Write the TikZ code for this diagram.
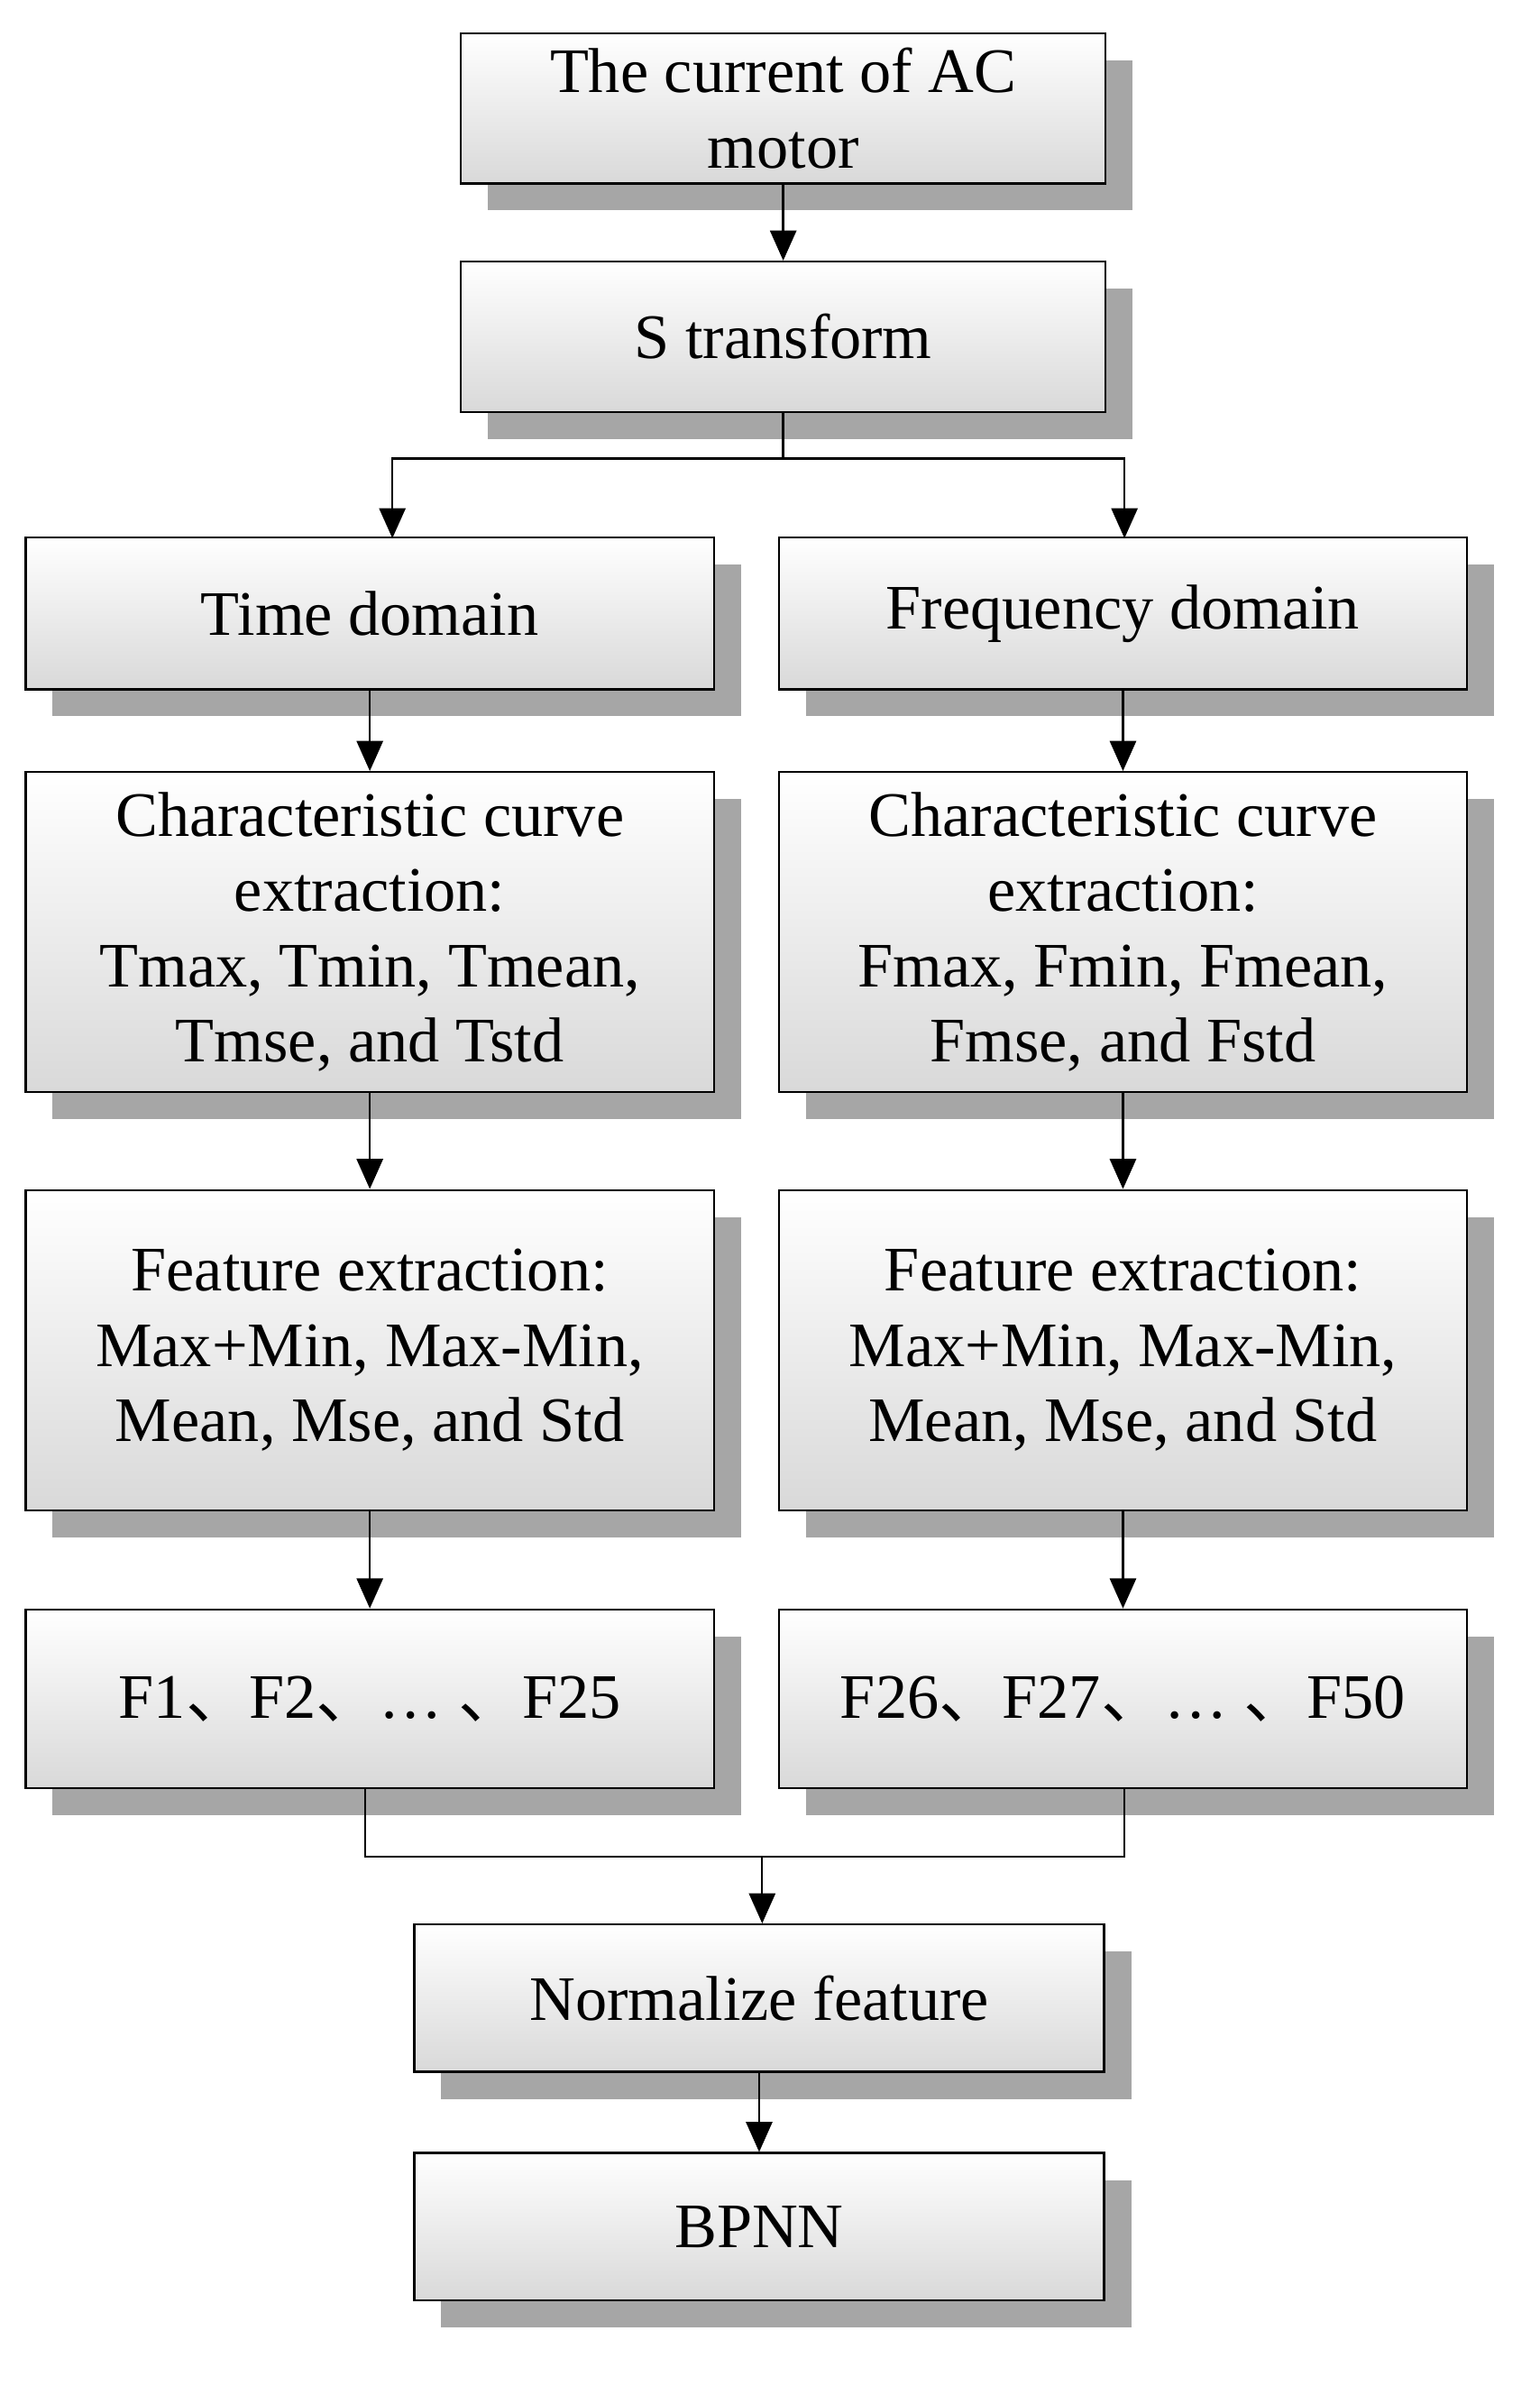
\documentclass[tikz,border=0pt]{standalone}
\usepackage{fontspec}
\setmainfont{Liberation Serif}
\newfontfamily\cjk{Noto Sans CJK SC}
\newcommand{\dun}{{\cjk 、}}
\usetikzlibrary{positioning, arrows.meta, calc, shadows}
\begin{document}
\begin{tikzpicture}[x=0.02cm, y=-0.02cm,
    box/.style={rectangle, draw, thick, align=center, top color=white, bottom color=gray!30,
      drop shadow={shadow xshift=0.36cm, shadow yshift=-0.36cm, fill=gray!70, opacity=1},
      font=\fontsize{24}{28.5}\selectfont},
    wide/.style={box, minimum width=8.58cm, minimum height=2cm},
    half/.style={box, minimum width=9.16cm},
    arrow/.style={-{Triangle[width=3.5mm, length=4mm]}, thick}
]
\useasboundingbox (0,0) rectangle (1024,1587);

% Input and transform
\node[wide] (motor) at (521,72) {The current of AC\\motor};
\node[wide] (strans) at (521,224) {S transform};
\draw[arrow] (motor) -- (strans);

% Two branches
\node[half, minimum height=2.02cm] (time) at (246,408) {Time domain};
\node[half, minimum height=2.02cm] (freq) at (747,408) {Frequency domain};
\coordinate (split) at (521,305);
\draw[thick] (strans) -- (split);
\draw[arrow] (split) -| (261,358);
\draw[arrow] (split) -| (748,358);

\node[half, minimum height=4.26cm] (tcurve) at (246,620) {Characteristic curve\\extraction:\\Tmax, Tmin, Tmean,\\Tmse, and Tstd};
\node[half, minimum height=4.26cm] (fcurve) at (747,620) {Characteristic curve\\extraction:\\Fmax, Fmin, Fmean,\\Fmse, and Fstd};
\draw[arrow] (time) -- (tcurve);
\draw[arrow] (freq) -- (fcurve);

\node[half, minimum height=4.26cm] (tfeat) at (246,898) {Feature extraction:\\Max+Min, Max-Min,\\Mean, Mse, and Std};
\node[half, minimum height=4.26cm] (ffeat) at (747,898) {Feature extraction:\\Max+Min, Max-Min,\\Mean, Mse, and Std};
\draw[arrow] (tcurve) -- (tfeat);
\draw[arrow] (fcurve) -- (ffeat);

\node[half, minimum height=2.38cm] (tvec) at (246,1130) {F1\dun F2\dun\dots\ \dun F25};
\node[half, minimum height=2.38cm] (fvec) at (747,1130) {F26\dun F27\dun\dots\ \dun F50};
\draw[arrow] (tfeat) -- (tvec);
\draw[arrow] (ffeat) -- (fvec);

% Merge
\node[box, minimum width=9.18cm, minimum height=1.96cm] (norm) at (505,1329) {Normalize feature};
\node[box, minimum width=9.18cm, minimum height=1.96cm] (bpnn) at (505,1481) {BPNN};
\coordinate (merge) at (507,1235);
\draw[thick] (tvec.south -| 243,0) |- (merge) -| (fvec.south -| 748,0);
\draw[arrow] (merge) -- (merge |- norm.north);
\draw[arrow] (norm) -- (bpnn);
\end{tikzpicture}
\end{document}
